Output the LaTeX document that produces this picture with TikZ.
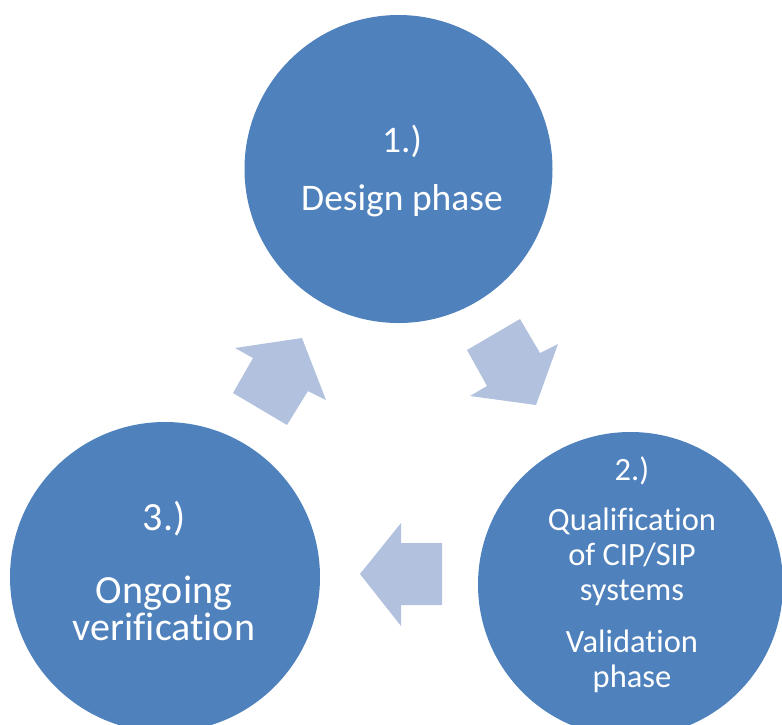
\documentclass[tikz,border=0pt]{standalone}
\usepackage{fontspec}
\setmainfont[Ligatures={NoCommon,NoContextual}]{Carlito}
\definecolor{phaseblue}{RGB}{79,129,189}
\definecolor{arrowblue}{RGB}{178,194,222}
\begin{document}
\begin{tikzpicture}[x=1pt,y=-1pt,
  phase/.style={circle,fill=phaseblue,draw=none,inner sep=0pt},
  lbl/.style={text=white,anchor=base,inner sep=0pt},
  blockarrow/.style={fill=arrowblue,draw=none}]
\useasboundingbox (0,0) rectangle (782,724);
\clip (0,0) rectangle (782,724);

% the three phase circles
\node[phase,minimum size=308pt] (c1) at (398.5,169) {};
\node[phase,minimum size=310pt] (c3) at (165,577) {};
\node[phase,minimum size=305pt] (c2) at (630.5,584.5) {};

% 1.) design phase
\node[lbl,font=\fontsize{37.5}{40}\selectfont] (t1a) at (402,152) {1.)};
\node[lbl,font=\fontsize{37.5}{40}\selectfont] (t1b) at (402,210) {Design phase};

% 2.) qualification / validation
\node[lbl,font=\fontsize{32.5}{36}\selectfont] (t2a) at (632,480) {2.)};
\node[lbl,font=\fontsize{32.5}{36}\selectfont] (t2b) at (632,530) {Qualification};
\node[lbl,font=\fontsize{32.5}{36}\selectfont] (t2c) at (632,565) {of CIP/SIP};
\node[lbl,font=\fontsize{32.5}{36}\selectfont] (t2d) at (632,600) {systems};
\node[lbl,font=\fontsize{32.5}{36}\selectfont] (t2e) at (632,652) {Validation};
\node[lbl,font=\fontsize{32.5}{36}\selectfont] (t2f) at (632,687) {phase};

% 3.) ongoing verification
\node[lbl,font=\fontsize{40}{44}\selectfont] (t3a) at (164,530) {3.)};
\node[lbl,font=\fontsize{40}{44}\selectfont] (t3b) at (164,603) {Ongoing};
\node[lbl,font=\fontsize{40}{44}\selectfont] (t3c) at (164,640) {verification};

% block arrows between the phases
\fill[blockarrow] (302,338) -- (326,400) -- (308,391) -- (287,425)
  -- (233,393) -- (253,358) -- (235,348) -- cycle;
\fill[blockarrow] (536,405) -- (470,396) -- (487,386) -- (467,350)
  -- (520,319) -- (540,353) -- (558,344) -- cycle;
\fill[blockarrow] (360,574) -- (401,523) -- (401,543) -- (442,543)
  -- (442,605) -- (401,605) -- (401,626) -- cycle;
\end{tikzpicture}
\end{document}
